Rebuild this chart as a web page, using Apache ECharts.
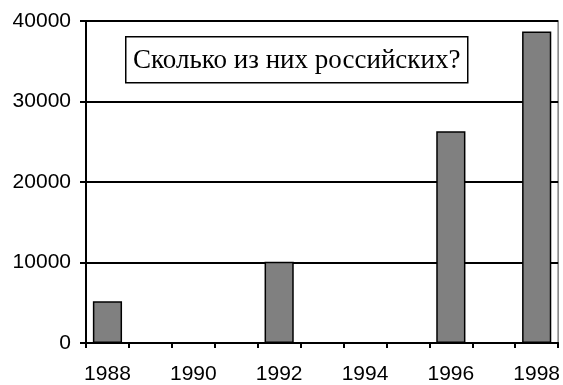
<!DOCTYPE html>
<html>
<head>
<meta charset="utf-8">
<script src="https://cdn.jsdelivr.net/npm/echarts@6/dist/echarts.min.js"></script>
<style>
  html, body { margin: 0; padding: 0; background: #fff; }
  #chart { width: 563px; height: 385px; }
</style>
</head>
<body>
<div id="chart"></div>
<script>
// Years on the category axis, one slot per year
const years = ['1988', '1989', '1990', '1991', '1992', '1993', '1994', '1995', '1996', '1997', '1998'];
// Counts per year (missing years have no bar)
const counts = [5200, null, null, null, 10100, null, null, null, 26300, null, 38700];
// Value axis range
const yMin = 0;
const yMax = 40000;
const yStep = 10000;
const boxTitle = 'Сколько из них российских?';

const chart = echarts.init(document.getElementById('chart'), null, { renderer: 'canvas' });

chart.setOption({
  animation: false,
  backgroundColor: '#ffffff',
  grid: {
    left: 86, right: 4, top: 21, bottom: 41,
    show: true, borderColor: '#808080', borderWidth: 1.5, backgroundColor: 'transparent'
  },
  xAxis: {
    type: 'category',
    data: years,
    boundaryGap: true,
    axisLine: { lineStyle: { color: '#000', width: 2 } },
    axisTick: { show: true, interval: 0, length: 5, lineStyle: { color: '#000', width: 2 } },
    axisLabel: {
      interval: 1, margin: 21, color: '#000',
      fontFamily: 'Liberation Sans, Arial, sans-serif', fontSize: 21
    },
    splitLine: { show: false }
  },
  yAxis: {
    type: 'value',
    min: yMin, max: yMax, interval: yStep,
    axisLine: { show: true, lineStyle: { color: '#000', width: 2 } },
    axisTick: { show: true, length: 6, lineStyle: { color: '#000', width: 2 } },
    axisLabel: {
      margin: 15, color: '#000',
      fontFamily: 'Liberation Sans, Arial, sans-serif', fontSize: 21,
      formatter: (v) => String(v)
    },
    splitLine: { show: true, lineStyle: { color: '#000', width: 2 } }
  },
  series: [{
    type: 'bar',
    data: counts,
    barWidth: '68%',
    itemStyle: { color: '#808080', borderColor: '#000', borderWidth: 1.5 }
  }],
  graphic: [{
    type: 'group',
    left: 125, top: 36,
    z: 100,
    children: [
      {
        type: 'rect',
        shape: { x: 0, y: 0, width: 342, height: 46 },
        style: { fill: '#fff', stroke: '#000', lineWidth: 1.5 }
      },
      {
        type: 'text',
        x: 171, y: 24,
        style: {
          text: boxTitle,
          fill: '#000',
          font: '27px "Liberation Serif", "Times New Roman", serif',
          align: 'center', verticalAlign: 'middle'
        }
      }
    ]
  }]
});
</script>
</body>
</html>
